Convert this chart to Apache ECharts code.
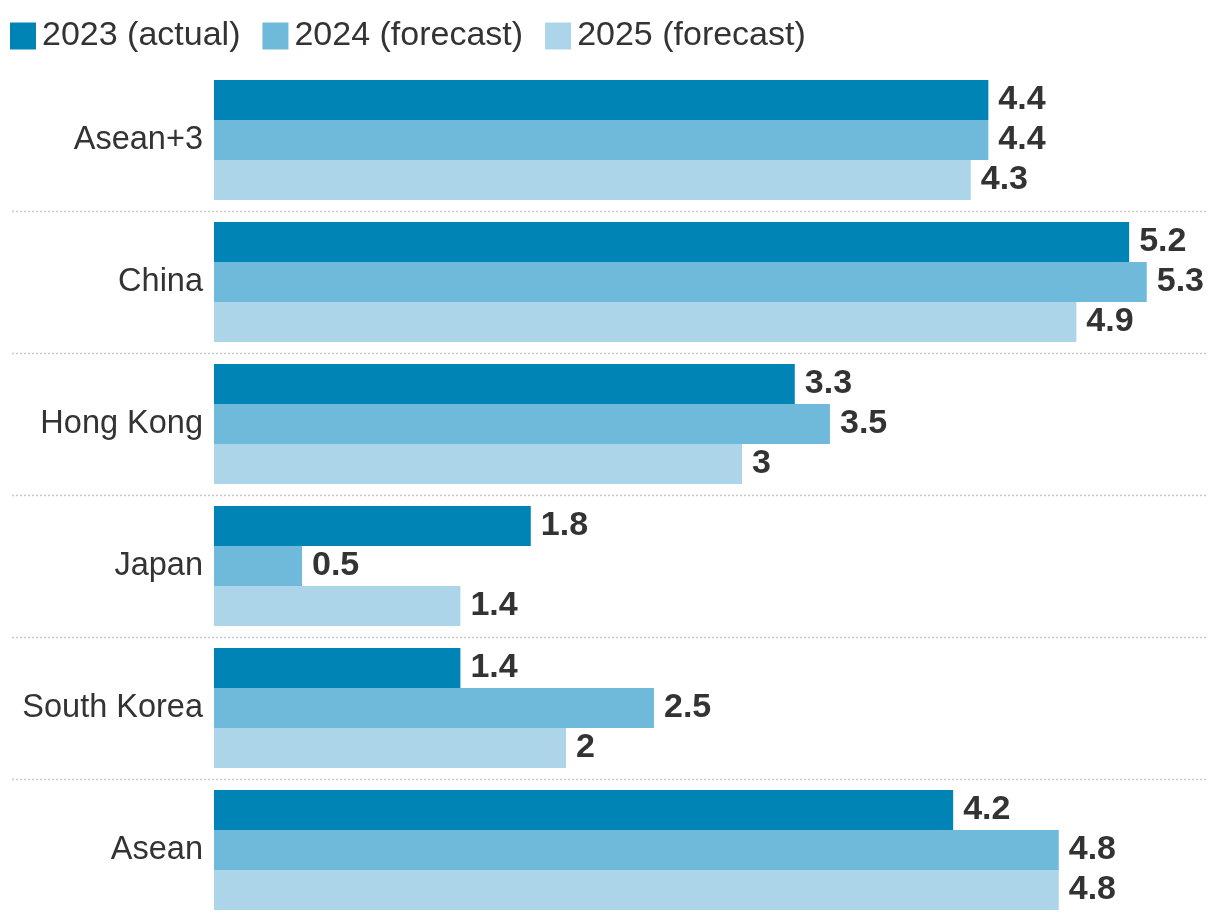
<!DOCTYPE html>
<html>
<head>
<meta charset="utf-8">
<script src="https://cdn.jsdelivr.net/npm/echarts@6/dist/echarts.min.js"></script>
<style>
html,body{margin:0;padding:0;background:#fff;}
#chart{width:1220px;height:922px;}
</style>
</head>
<body>
<div id="chart"></div>
<script>
const categories = ["Asean+3", "China", "Hong Kong", "Japan", "South Korea", "Asean"];
const seriesNames = ["2023 (actual)", "2024 (forecast)", "2025 (forecast)"];
const values2023 = [4.4, 5.2, 3.3, 1.8, 1.4, 4.2];
const values2024 = [4.4, 5.3, 3.5, 0.5, 2.5, 4.8];
const values2025 = [4.3, 4.9, 3.0, 1.4, 2.0, 4.8];
const colors = ["#0084b6", "#6fbadb", "#acd5ea"];

const FONT = "Liberation Sans, Arial, sans-serif";
const chart = echarts.init(document.getElementById('chart'), null, {renderer: 'canvas'});

function makeSeries(name, data, color) {
  return {
    name: name,
    type: 'bar',
    data: data,
    itemStyle: {color: color},
    barGap: '0%',
    barCategoryGap: '15.5%',
    label: {
      show: true,
      position: 'right',
      distance: 10,
      color: '#333333',
      fontFamily: FONT,
      fontWeight: 'bold',
      fontSize: 34
    },
    emphasis: {disabled: true},
    animation: false
  };
}

const option = {
  animation: false,
  color: colors,
  textStyle: {fontFamily: FONT},
  legend: {
    left: 10,
    top: 19,
    icon: 'rect',
    itemWidth: 26,
    itemHeight: 27,
    itemGap: 22,
    padding: 0,
    textStyle: {fontSize: 34, color: '#333333', fontFamily: FONT, padding: [0, 0, 0, 1]},
    data: seriesNames
  },
  grid: {left: 214, right: 12, top: 69, bottom: 1, containLabel: false},
  xAxis: {
    type: 'value',
    min: 0,
    max: 5.648,
    show: false,
    splitLine: {show: false}
  },
  yAxis: {
    type: 'category',
    data: categories,
    inverse: true,
    axisLine: {show: false},
    axisTick: {show: false},
    splitLine: {show: false},
    axisLabel: {
      fontSize: 32.5,
      color: '#333333',
      fontFamily: FONT,
      margin: 11
    }
  },
  series: [
    makeSeries(seriesNames[0], values2023, colors[0]),
    makeSeries(seriesNames[1], values2024, colors[1]),
    makeSeries(seriesNames[2], values2025, colors[2])
  ]
};
chart.setOption(option);

// dotted separators between category bands
const lines = [];
for (let i = 0; i < categories.length - 1; i++) {
  const y1 = chart.convertToPixel({yAxisIndex: 0}, i);
  const y2 = chart.convertToPixel({yAxisIndex: 0}, i + 1);
  const y = Math.round((y1 + y2) / 2) + 0.5;
  lines.push({
    type: 'line',
    shape: {x1: 12, y1: y, x2: 1208, y2: y},
    style: {stroke: '#c8c8c8', lineWidth: 1.5, lineDash: [2, 2]},
    silent: true,
    z: 0
  });
}
chart.setOption({graphic: lines});
</script>
</body>
</html>
